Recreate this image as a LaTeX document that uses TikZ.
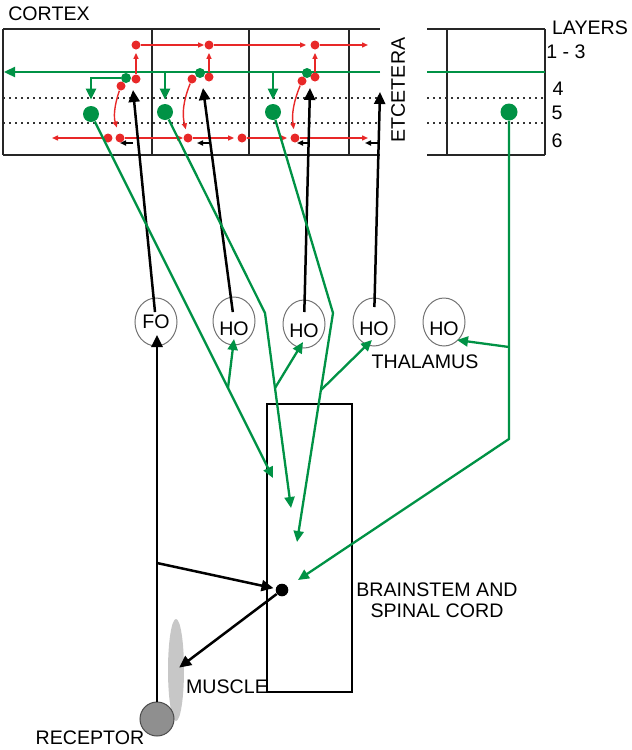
\documentclass[tikz,border=0pt]{standalone}
\usepackage{fontspec}
\setmainfont{Liberation Sans}
\usetikzlibrary{arrows.meta,shapes.geometric}
\definecolor{axongreen}{RGB}{0,146,69}
\definecolor{cellred}{RGB}{232,40,40}
\newcommand{\Layers}[2]{
    \draw[frame] (#1,29) -- (#2,29);
    \draw[frame] (#1,155) -- (#2,155);
    \draw[dotline] (#1,98) -- (#2,98);
    \draw[dotline] (#1,123) -- (#2,123);
}

\begin{document}
\begin{tikzpicture}[x=0.5pt, y=-0.5pt,
    every node/.style={font=\fontsize{9.8}{11.5}\selectfont},
    frame/.style={black!85, line width=1pt},
    dotline/.style={black!80, line width=0.9pt, dash pattern=on 0.9pt off 2.1pt},
    greenax/.style={axongreen, line width=1.15pt, -{Triangle[length=5.5pt,width=5pt]}},
    redax/.style={cellred, line width=0.7pt, -{Triangle[length=3pt,width=2.5pt]}},
    blackax/.style={black, line width=1.25pt, -{Triangle[length=6pt,width=5.5pt]}},
    smallax/.style={black, line width=0.8pt, -{Triangle[length=3pt,width=2.5pt]}},
    rdot/.style={circle, fill=cellred, inner sep=0pt, minimum size=4.5pt},
    gdot/.style={circle, fill=axongreen, inner sep=0pt, minimum size=5pt},
    bigdot/.style={circle, fill=axongreen, inner sep=0pt, minimum size=8pt},
    nucleus/.style={ellipse, draw=black!55, line width=0.5pt, minimum width=21pt, minimum height=24pt, inner sep=0pt}]
        \useasboundingbox (0,0) rectangle (632,750);

        % cortex and the extra column
        \Layers{3}{380}
        \Layers{427}{545}
        \foreach \x in {3,152,249,349,447,545}
            \draw[frame] (\x,29) -- (\x,155);
        \coordinate (gR) at (380,72);
        \coordinate (gL) at (4,72);
        \draw[greenax] (gR) -- (gL);
        \draw[axongreen, line width=1.15pt] (427,72) -- (545,72);

        \node (cortex) at (49,14) {CORTEX};
        \node (layers) at (590,28) {LAYERS};
        \node (l13) at (566,52) {1 - 3};
        \node (l4) at (558,89) {4};
        \node (l5) at (557,113) {5};
        \node (l6) at (557,141) {6};
        \node[rotate=90] (etc) at (398,90) {ETCETERA};

        % cells, column by column
        \node[gdot] (gA) at (126,78) {};
        \node[rdot] (rA1) at (136,79) {};
        \node[rdot] (rA2) at (136,45) {};
        \node[rdot] (rA3) at (121,86) {};
        \node[bigdot] (bigA) at (91,114) {};
        \node[rdot] (rA4) at (108,138) {};
        \node[rdot] (rA5) at (120,138) {};

        \node[gdot] (gB) at (200,73) {};
        \node[rdot] (rB1) at (209,77) {};
        \node[rdot] (rB2) at (209,45) {};
        \node[rdot] (rB3) at (192,79) {};
        \node[bigdot] (bigB) at (165,112) {};
        \node[rdot] (rB4) at (188,138) {};
        \node[rdot] (rB5) at (242,138) {};

        \node[gdot] (gC) at (307,73) {};
        \node[rdot] (rC1) at (315,77) {};
        \node[rdot] (rC2) at (315,45) {};
        \node[rdot] (rC3) at (302,81) {};
        \node[bigdot] (bigC) at (273,112) {};
        \node[rdot] (rC4) at (295,138) {};

        \node[bigdot, minimum size=8.5pt] (bigD) at (509,112) {};

        % intracortical red paths
        \coordinate (rEndTop) at (368,45);
        \coordinate (rEndL) at (52,138);
        \coordinate (rEndBot) at (368,138);
        \draw[redax, shorten >=1.5pt] (rA1) -- (rA2);
        \draw[redax, shorten >=1.5pt] (rB1) -- (rB2);
        \draw[redax, shorten >=1.5pt] (rC1) -- (rC2);
        \draw[redax] (rA2) -- (rB2);
        \draw[redax, shorten >=2pt] (rB2) -- (rC2);
        \draw[redax] (rC2) -- (rEndTop);
        \draw[redax, shorten >=3pt] (rA3) to[bend right=18] (rA5);
        \draw[redax, shorten >=2pt] (rB3) to[bend right=18] (rB4);
        \draw[redax, shorten >=2pt] (rC3) to[bend right=15] (rC4);
        \draw[redax] (rA4) -- (rEndL);
        \draw[redax] (rA5) -- (rB4);
        \draw[redax, shorten >=1.5pt] (rB4) -- (rB5);
        \draw[redax, shorten >=1.5pt] (rB5) -- (rC4);
        \draw[redax] (rC4) -- (rEndBot);
        \foreach \x in {133,210,310,378}
            \draw[smallax] (\x,143) -- ++(-13,0);

        % green branches down to layer 5
        \coordinate (cB) at (165,72);
        \coordinate (cC) at (273,72);
        \draw[greenax, shorten >=3pt] (gA) -| (bigA);
        \draw[greenax, shorten >=2pt] (cB) -- (bigB);
        \draw[greenax, shorten >=2pt] (cC) -- (bigC);

        % thalamus
        \node[nucleus] (fo) at (156,322) {};
        \node (foT) at (156,322) {FO};
        \node[nucleus] (hoA) at (234,321) {};
        \node (hoAT) at (234,329) {HO};
        \node[nucleus] (hoB) at (304,324) {};
        \node (hoBT) at (304,331) {HO};
        \node[nucleus] (hoC) at (374,322) {};
        \node (hoCT) at (374,329) {HO};
        \node[nucleus] (hoD) at (444,322) {};
        \node (hoDT) at (444,329) {HO};
        \node (thal) at (425,362) {THALAMUS};

        \coordinate (bA) at (133,90);
        \coordinate (bB) at (203,88);
        \coordinate (bC) at (310,88);
        \coordinate (bD) at (380,92);
        \draw[blackax, shorten <=5pt] (fo.center) -- (bA);
        \draw[blackax, shorten <=4.5pt] (hoA.center) -- (bB);
        \draw[blackax, shorten <=6pt] (hoB.center) -- (bC);
        \draw[blackax, shorten <=7.5pt] (hoC.center) -- (bD);

        % brainstem and spinal cord
        \node[draw, line width=0.7pt, minimum width=42.5pt, minimum height=144pt, inner sep=0pt] (bs) at (309.5,548) {};
        \node[align=center, font=\fontsize{9.8}{10.5}\selectfont] (bsT) at (437,600) {BRAINSTEM AND\\SPINAL CORD};

        % layer 5 outputs
        \coordinate (sA) at (273,478);
        \coordinate (jA) at (228,388);
        \coordinate (tA) at (234,339);
        \coordinate (kB) at (265,313);
        \coordinate (jB) at (275,388);
        \coordinate (sB) at (291,508);
        \coordinate (tB) at (303,342);
        \coordinate (kC) at (333,313);
        \coordinate (jC) at (321,390);
        \coordinate (sC) at (297,542);
        \coordinate (tC) at (372,340);
        \coordinate (jD) at (509,347);
        \coordinate (kD) at (509,439);
        \coordinate (sD) at (298,580);
        \coordinate (tD) at (457,340);
        \draw[greenax] (bigA) -- (sA);
        \draw[greenax] (jA) -- (tA);
        \draw[greenax] (bigB) -- (kB) -- (sB);
        \draw[greenax] (jB) -- (tB);
        \draw[greenax] (bigC) -- (kC) -- (sC);
        \draw[greenax] (jC) -- (tC);
        \draw[greenax] (bigD) -- (kD) -- (sD);
        \draw[greenax] (jD) -- (tD);

        % periphery
        \node[ellipse, fill=black!22, inner sep=0pt, minimum width=8pt, minimum height=51pt] (muscle) at (176,670) {};
        \node[circle, draw=black!70, fill=black!44, line width=0.5pt, inner sep=0pt, minimum size=17pt] (recep) at (157,719) {};
        \node[circle, fill=black, inner sep=0pt, minimum size=6.3pt] (cord) at (282,590) {};
        \node (muscT) at (227,687) {MUSCLE};
        \node (recT) at (90,738) {RECEPTOR};
        \coordinate (tFO) at (157,335);
        \coordinate (jR) at (157,563);
        \draw[blackax] (recep) -- (tFO);
        \draw[blackax, shorten >=1pt] (jR) -- (cord);
        \draw[blackax, shorten >=2pt] (cord) -- (muscle.center);
    \end{tikzpicture}
\end{document}
